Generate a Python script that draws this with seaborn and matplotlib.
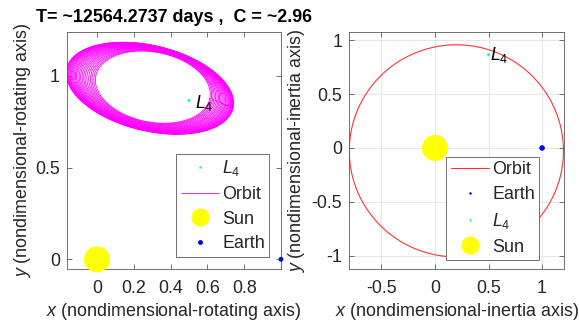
import numpy as np
import pandas as pd
import matplotlib
matplotlib.use("Agg")
import matplotlib.pyplot as plt
import seaborn as sns
from matplotlib.lines import Line2D

# ---------------- data ----------------
title_text = "T= ~12564.2737 days ,  C = ~2.96"

# rotating frame: orbit loops (ellipse parameters per loop)
loop_cx = [0.3035, 0.3027, 0.3017, 0.3008, 0.2998, 0.2989, 0.2980, 0.2971, 0.2963, 0.2955, 0.2947, 0.2940, 0.2932,
           0.2926, 0.2920, 0.2914, 0.2908, 0.2903, 0.2898, 0.2894, 0.2890, 0.2885, 0.2882, 0.2879, 0.2877, 0.2875]
loop_cy = [0.9390, 0.9387, 0.9383, 0.9380, 0.9376, 0.9373, 0.9369, 0.9366, 0.9363, 0.9360, 0.9357, 0.9354, 0.9352,
           0.9349, 0.9347, 0.9345, 0.9343, 0.9341, 0.9339, 0.9337, 0.9336, 0.9334, 0.9333, 0.9332, 0.9331, 0.9330]
loop_a = [0.316, 0.324, 0.333, 0.341, 0.350, 0.359, 0.368, 0.375, 0.383, 0.391, 0.398, 0.405, 0.412,
          0.417, 0.423, 0.429, 0.434, 0.439, 0.444, 0.447, 0.451, 0.455, 0.458, 0.461, 0.463, 0.465]
loop_b = [0.1910, 0.1932, 0.1956, 0.1981, 0.2005, 0.2030, 0.2054, 0.2076, 0.2098, 0.2119, 0.2138, 0.2158, 0.2177,
          0.2193, 0.2209, 0.2225, 0.2239, 0.2253, 0.2266, 0.2277, 0.2288, 0.2299, 0.2307, 0.2315, 0.2321, 0.2326]
loop_tilt_deg = [-11.1, -11.2, -11.4, -11.5, -11.7, -11.8, -12.0, -12.1, -12.2, -12.4, -12.5, -12.6, -12.7,
                 -12.8, -12.9, -13.0, -13.1, -13.2, -13.2, -13.3, -13.4, -13.4, -13.5, -13.5, -13.6, -13.6]

# inertial frame orbit (nearly circular)
inertial_center = (0.20, -0.027)
inertial_radii = (1.00, 0.985)

sun_xy = (0.0, 0.0)
earth_xy = (1.0, 0.0)
l4_xy = (0.5, 0.866)

left_xticks = [0, 0.2, 0.4, 0.6, 0.8]
left_xlabels = ["0", "0.2", "0.4", "0.6", "0.8"]
left_yticks = [0, 0.5, 1]
left_ylabels = ["0", "0.5", "1"]
right_xticks = [-0.5, 0, 0.5, 1]
right_xlabels = ["-0.5", "0", "0.5", "1"]
right_yticks = [-1, -0.5, 0, 0.5, 1]
right_ylabels = ["-1", "-0.5", "0", "0.5", "1"]

# ---------------- build tables ----------------
t = np.linspace(0, 2 * np.pi, 240)
rows = []
for i, (cx, cy, a, b, th) in enumerate(zip(loop_cx, loop_cy, loop_a, loop_b, loop_tilt_deg)):
    r = np.deg2rad(th)
    x = cx + a * np.cos(t) * np.cos(r) - b * np.sin(t) * np.sin(r)
    y = cy + a * np.cos(t) * np.sin(r) + b * np.sin(t) * np.cos(r)
    rows.append(pd.DataFrame({"x": x, "y": y, "loop": i}))
rot_df = pd.concat(rows, ignore_index=True)

ti = np.linspace(0, 2 * np.pi, 400)
inr_df = pd.DataFrame({"x": inertial_center[0] + inertial_radii[0] * np.cos(ti),
                       "y": inertial_center[1] + inertial_radii[1] * np.sin(ti),
                       "loop": 0})

# ---------------- style ----------------
sns.set_theme(style="white")
plt.rcParams["font.family"] = ["Liberation Sans", "DejaVu Sans"]
plt.rcParams["mathtext.fontset"] = "custom"
plt.rcParams["mathtext.rm"] = "Liberation Sans"
plt.rcParams["mathtext.it"] = "Liberation Sans:italic"
plt.rcParams["mathtext.bf"] = "Liberation Sans:bold"

FS = 12.9
TXT = "#262626"

fig = plt.figure(figsize=(5.79, 3.22), dpi=100)
axL = fig.add_axes([67 / 579, 1 - 269 / 322, 214 / 579, 237 / 322])
axR = fig.add_axes([349.3 / 579, 1 - 269.3 / 322, 214.7 / 579, 237 / 322])

MAG = "#ff00ff"; CYA = "#00ffff"; YEL = "#ffff00"; BLU = "#0000ff"; RED = "#ff3333"

# ---------------- left: rotating frame ----------------
sns.lineplot(data=rot_df, x="x", y="y", units="loop", estimator=None, sort=False,
             color=MAG, lw=0.6, ax=axL, legend=False)
sns.scatterplot(x=[l4_xy[0]], y=[l4_xy[1]], color=CYA, s=5, edgecolor="none", ax=axL, zorder=4)
axL.annotate("$L_4$", l4_xy, xytext=(4, -1.5), textcoords="offset points",
             fontsize=FS, va="center", ha="left", color="black")
sns.scatterplot(x=[sun_xy[0]], y=[sun_xy[1]], color=YEL, s=350, edgecolor="none", ax=axL,
                zorder=5, clip_on=False)
sns.scatterplot(x=[earth_xy[0]], y=[earth_xy[1]], color=BLU, s=12, edgecolor="none", ax=axL,
                zorder=6, clip_on=False)

axL.set_xlim(-0.163, 1.0)
axL.set_ylim(-0.053, 1.24)
axL.set_xticks(left_xticks)
axL.set_xticklabels(left_xlabels)
axL.set_yticks(left_yticks)
axL.set_yticklabels(left_ylabels)
axL.set_xlabel("$x$ (nondimensional-rotating axis)", fontsize=FS, color=TXT)
axL.set_ylabel("$y$ (nondimensional-rotating axis)", fontsize=FS, color=TXT, va="center")
axL.set_title(title_text, fontsize=12.9, fontweight="bold", pad=7.5, color="black")

leg_kw = dict(loc="lower right", borderaxespad=0, fontsize=FS, handlelength=2.15,
              handletextpad=0.15, labelspacing=0.43, borderpad=0.25, fancybox=False,
              framealpha=1, edgecolor="0.35")

hL = [Line2D([], [], ls="none", marker="o", ms=1.8, mfc=CYA, mec="none"),
      Line2D([], [], color=MAG, lw=0.6),
      Line2D([], [], ls="none", marker="o", ms=13, mfc=YEL, mec="none"),
      Line2D([], [], ls="none", marker="o", ms=3.5, mfc=BLU, mec="none")]
legL = axL.legend(hL, ["$L_4$", "Orbit", "Sun", "Earth"], bbox_to_anchor=(0.945, 0.051), **leg_kw)
legL.get_frame().set_linewidth(0.6)

# ---------------- right: inertial frame ----------------
sns.lineplot(data=inr_df, x="x", y="y", units="loop", estimator=None, sort=False,
             color=RED, lw=0.8, ax=axR, legend=False)
sns.scatterplot(x=[earth_xy[0]], y=[earth_xy[1]], color=BLU, s=16, edgecolor="none", ax=axR, zorder=6)
sns.scatterplot(x=[l4_xy[0]], y=[l4_xy[1]], color=CYA, s=5, edgecolor="none", ax=axR, zorder=4)
axR.annotate("$L_4$", l4_xy, xytext=(1, 0), textcoords="offset points",
             fontsize=FS, va="center", ha="left", color="black")
sns.scatterplot(x=[sun_xy[0]], y=[sun_xy[1]], color=YEL, s=350, edgecolor="none", ax=axR, zorder=5)

axR.set_xlim(-0.80, 1.205)
axR.set_ylim(-1.127, 1.074)
axR.set_xticks(right_xticks)
axR.set_xticklabels(right_xlabels)
axR.set_yticks(right_yticks)
axR.set_yticklabels(right_ylabels)
axR.grid(True, color="#e3e3e3", lw=0.6)
axR.set_axisbelow(True)
axR.set_xlabel("$x$ (nondimensional-inertia axis)", fontsize=FS, color=TXT)
axR.set_ylabel("$y$ (nondimensional-inertia axis)", fontsize=FS, color=TXT, va="center")

hR = [Line2D([], [], color=RED, lw=0.8),
      Line2D([], [], ls="none", marker="o", ms=1.8, mfc=BLU, mec="none"),
      Line2D([], [], ls="none", marker="o", ms=1.8, mfc=CYA, mec="none"),
      Line2D([], [], ls="none", marker="o", ms=13, mfc=YEL, mec="none")]
legR = axR.legend(hR, ["Orbit", "Earth", "$L_4$", "Sun"], bbox_to_anchor=(0.885, 0.039), **leg_kw)
legR.get_frame().set_linewidth(0.6)
legR.set_zorder(10)

for ax in (axL, axR):
    for s in ax.spines.values():
        s.set_visible(True)
        s.set_color("0.35")
        s.set_linewidth(0.6)
    ax.tick_params(direction="in", length=3.5, width=0.6, color="0.35", top=True, right=True,
                   bottom=True, left=True, labelsize=FS, labelcolor=TXT)
    ax.tick_params(axis="x", pad=8)
    ax.tick_params(axis="y", pad=5)
    ax.xaxis.label.set_va("center")

axL.yaxis.set_label_coords(-0.210, 0.5)
axR.yaxis.set_label_coords(-0.2436, 0.5)
axL.xaxis.set_label_coords(0.5, -0.180)
axR.xaxis.set_label_coords(0.5, -0.180)

fig.savefig("out.png", dpi=100)
